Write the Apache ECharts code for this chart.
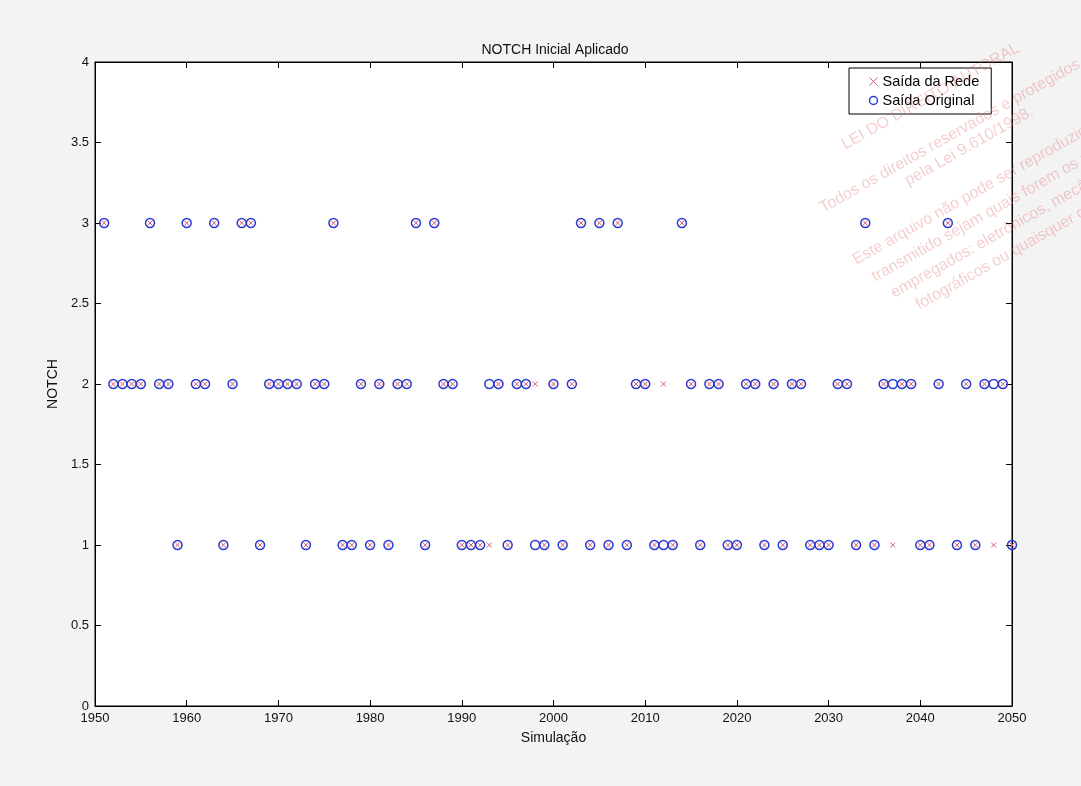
<!DOCTYPE html>
<html>
<head>
<meta charset="utf-8">
<script src="https://cdn.jsdelivr.net/npm/echarts@6/dist/echarts.min.js"></script>
<style>
html,body{margin:0;padding:0;background:#f3f3f3;}
#chart{width:1081px;height:786px;}
</style>
</head>
<body>
<div id="chart"></div>
<script>
// ---- Data ----
var years = [1951,1952,1953,1954,1955,1956,1957,1958,1959,1960,
             1961,1962,1963,1964,1965,1966,1967,1968,1969,1970,
             1971,1972,1973,1974,1975,1976,1977,1978,1979,1980,
             1981,1982,1983,1984,1985,1986,1987,1988,1989,1990,
             1991,1992,1993,1994,1995,1996,1997,1998,1999,2000,
             2001,2002,2003,2004,2005,2006,2007,2008,2009,2010,
             2011,2012,2013,2014,2015,2016,2017,2018,2019,2020,
             2021,2022,2023,2024,2025,2026,2027,2028,2029,2030,
             2031,2032,2033,2034,2035,2036,2037,2038,2039,2040,
             2041,2042,2043,2044,2045,2046,2047,2048,2049,2050];

// Saída Original (blue circles)
var saidaOriginal = [3,2,2,2,2,3,2,2,1,3,
                     2,2,3,1,2,3,3,1,2,2,
                     2,2,1,2,2,3,1,1,2,1,
                     2,1,2,2,3,1,3,2,2,1,
                     1,1,2,2,1,2,2,1,1,2,
                     1,2,3,1,3,1,3,1,2,2,
                     1,1,1,3,2,1,2,2,1,1,
                     2,2,1,2,1,2,2,1,1,1,
                     2,2,1,3,1,2,2,2,2,1,
                     1,2,3,1,2,1,2,2,2,1];

// Saída da Rede (red crosses)
var saidaRede = [3,2,2,2,2,3,2,2,1,3,
                 2,2,3,1,2,3,3,1,2,2,
                 2,2,1,2,2,3,1,1,2,1,
                 2,1,2,2,3,1,3,2,2,1,
                 1,1,1,2,1,2,2,2,1,2,
                 1,2,3,1,3,1,3,1,2,2,
                 1,2,1,3,2,1,2,2,1,1,
                 2,2,1,2,1,2,2,1,1,1,
                 2,2,1,3,1,2,1,2,2,1,
                 1,2,3,1,2,1,2,1,2,1];

var xTicks = [1950,1960,1970,1980,1990,2000,2010,2020,2030,2040,2050];
var yTicks = [0,0.5,1,1.5,2,2.5,3,3.5,4];

var titleText = 'NOTCH Inicial Aplicado';
var xName = 'Simulação';
var yName = 'NOTCH';
var watermarkBlock1 = ['LEI DO DIREITO AUTORAL', 'Todos os direitos reservados e protegidos', 'pela Lei 9.610/1998.'];
var watermarkBlock2 = ['Este arquivo não pode ser reproduzido ou', 'transmitido sejam quais forem os meios', 'empregados: eletrônicos, mecânicos,', 'fotográficos ou quaisquer outros.'];

// ---- Build ----
var FONT = 'Liberation Sans, Arial, sans-serif';
var BLUE = '#2a3bd0';
var RED = '#d65c7a';
var CROSS = 'path://M0,0L10,10M10,0L0,10';

function pairs(vals){ return years.map(function(y,i){ return [y, vals[i]]; }); }

var chart = echarts.init(document.getElementById('chart'), null, {renderer:'canvas'});

var wmFill = 'rgba(225,125,125,0.38)';
var wmFont = '16px ' + FONT;
var wmRot = 0.515;
var wmPos1 = [[847,153],[825,216],[910,189]];
var wmPos2 = [[858,268],[877,285],[896,301],[921,313]];
var graphics = [];
watermarkBlock1.forEach(function(t,i){
  graphics.push({type:'text', x:wmPos1[i][0], y:wmPos1[i][1], rotation:wmRot, z:100,
    style:{text:t, fill:wmFill, font:wmFont, verticalAlign:'bottom', align:'left'}});
});
watermarkBlock2.forEach(function(t,i){
  graphics.push({type:'text', x:wmPos2[i][0], y:wmPos2[i][1], rotation:wmRot, z:100,
    style:{text:t, fill:wmFill, font:wmFont, verticalAlign:'bottom', align:'left'}});
});

var axisCommon = {
  axisLine:{show:true, onZero:false, lineStyle:{color:'#000', width:1}},
  axisTick:{show:true, inside:true, length:6, lineStyle:{color:'#000', width:1}},
  splitLine:{show:false}
};

var option = {
  backgroundColor:'#f3f3f3',
  animation:false,
  textStyle:{fontFamily:FONT},
  title:{text:titleText, left:550, textAlign:'center', top:38,
    textStyle:{fontSize:14, fontWeight:'normal', color:'#111', fontFamily:FONT}},
  legend:{
    orient:'vertical', left:849, top:68,
    backgroundColor:'#fff', borderColor:'#000', borderWidth:1, borderRadius:0,
    padding:[6,12,6,18], itemGap:4, itemWidth:8, itemHeight:8, itemTextGap:18,
    textStyle:{fontSize:14.5, color:'#000', fontFamily:FONT},
    data:[
      {name:'Saída da Rede', icon:CROSS, itemStyle:{color:'none', borderColor:RED, borderWidth:1}},
      {name:'Saída Original', icon:'circle', itemStyle:{color:'none', borderColor:BLUE, borderWidth:1.5}}
    ]
  },
  grid:{left:95, right:69, top:62, bottom:80, show:true, backgroundColor:'#fff', borderColor:'#000', borderWidth:1},
  xAxis:[
    Object.assign({type:'value', min:xTicks[0], max:xTicks[xTicks.length-1], interval:xTicks[1]-xTicks[0],
      position:'bottom', name:xName, nameLocation:'middle', nameGap:25,
      nameTextStyle:{fontSize:14, color:'#111', fontFamily:FONT},
      axisLabel:{fontSize:13, color:'#111', margin:6, fontFamily:FONT,
        formatter:function(v){ return String(v); }}}, axisCommon),
    Object.assign({type:'value', min:xTicks[0], max:xTicks[xTicks.length-1], interval:xTicks[1]-xTicks[0],
      position:'top', axisLabel:{show:false}}, axisCommon)
  ],
  yAxis:[
    Object.assign({type:'value', min:yTicks[0], max:yTicks[yTicks.length-1], interval:yTicks[1]-yTicks[0],
      position:'left', name:yName, nameLocation:'middle', nameGap:33, nameRotate:90,
      nameTextStyle:{fontSize:14, color:'#111', fontFamily:FONT},
      axisLabel:{fontSize:13, color:'#111', margin:6, fontFamily:FONT}}, axisCommon),
    Object.assign({type:'value', min:yTicks[0], max:yTicks[yTicks.length-1], interval:yTicks[1]-yTicks[0],
      position:'right', axisLabel:{show:false}}, axisCommon)
  ],
  series:[
    {name:'Saída da Rede', type:'scatter', xAxisIndex:0, yAxisIndex:0, z:3,
      symbol:CROSS, symbolSize:5,
      itemStyle:{color:'none', borderColor:RED, borderWidth:1, opacity:1},
      data:pairs(saidaRede)},
    {name:'Saída Original', type:'scatter', xAxisIndex:0, yAxisIndex:0, z:2,
      symbol:'circle', symbolSize:9,
      itemStyle:{color:'none', borderColor:BLUE, borderWidth:1.5, opacity:1},
      data:pairs(saidaOriginal)}
  ],
  graphic:graphics
};
chart.setOption(option);
</script>
</body>
</html>
